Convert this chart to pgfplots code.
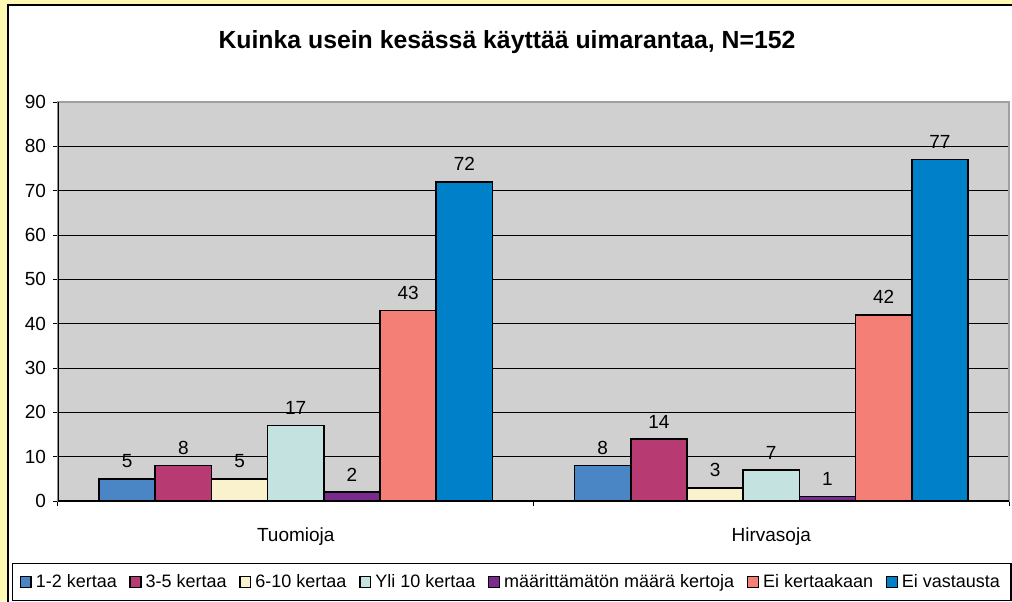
\documentclass[border=0pt]{standalone}
\usepackage{pgfplots}
\pgfplotsset{compat=1.18}
\usepackage{fontspec}
\setmainfont{Liberation Sans}
\definecolor{bgyellow}{HTML}{FFF9B4}
\definecolor{plotgray}{HTML}{D0D0D0}
\definecolor{cA}{HTML}{4A86C6}
\definecolor{cB}{HTML}{B83A73}
\definecolor{cC}{HTML}{FAF2CC}
\definecolor{cD}{HTML}{C3E2E0}
\definecolor{cE}{HTML}{7B2A8D}
\definecolor{cF}{HTML}{F47F77}
\definecolor{cG}{HTML}{0080C8}
\pgfplotsset{
  mybar/.style={fill=#1, draw=black, line width=0.85pt,
    legend image code/.code={\draw[fill=#1,draw=black,line width=0.7pt] (0pt,-2.7pt) rectangle (5.4pt,2.7pt);}},
}
\begin{document}
\begin{tikzpicture}
\useasboundingbox (0pt,0pt) rectangle (506pt,300.5pt);
\clip (0pt,0pt) rectangle (506pt,300.5pt);
\fill[bgyellow] (0pt,0pt) rectangle (506pt,300.5pt);
\fill[white] (4pt,-10pt) rectangle (520pt,298pt);
\draw[line width=1.2pt] (4pt,-10pt) |- (520pt,298pt);
\node[font=\bfseries\fontsize{12.4}{14}\selectfont] at (253.5pt,279.5pt) {Kuinka usein kesässä käyttää uimarantaa, N=152};
\begin{axis}[
  at={(29pt,50pt)}, anchor=south west,
  scale only axis, width=475.5pt, height=199.5pt,
  ybar=0pt, bar width=0.1182,
  ymin=0, ymax=90, ytick={0,10,...,90},
  xmin=-0.5, xmax=1.5,
  xtick={-0.5,0.5,1.5}, xticklabels={},
  extra x ticks={0,1}, extra x tick labels={Tuomioja,Hirvasoja},
  extra x tick style={major tick length=0pt, grid=none},
  xtick pos=bottom, ytick pos=left,
  tick align=outside, major tick length=2.5pt,
  tick style={black, line width=0.5pt},
  ymajorgrids, grid style={black, line width=0.5pt},
  axis background/.style={fill=plotgray},
  axis line style={draw=gray!75, line width=1pt},
  tick label style={font=\fontsize{9.5}{11}\selectfont},
  /pgf/number format/assume math mode=true,
  xticklabel style={yshift=-10pt},
  nodes near coords,
  every node near coord/.append style={font=\fontsize{9.5}{11}\selectfont, inner sep=0pt, yshift=5pt},
  legend columns=-1,
  legend style={at={(axis description cs:-0.0484,-0.1554)}, anchor=north west,
    draw=black, line width=0.6pt, font=\fontsize{9}{10}\selectfont,
    inner xsep=3.5pt, inner ysep=3.2pt,
    /tikz/every even column/.append style={column sep=4.3pt}},
  legend cell align=left,
]
\addplot[mybar=cA] coordinates {(0,5) (1,8)};
\addplot[mybar=cB] coordinates {(0,8) (1,14)};
\addplot[mybar=cC] coordinates {(0,5) (1,3)};
\addplot[mybar=cD] coordinates {(0,17) (1,7)};
\addplot[mybar=cE] coordinates {(0,2) (1,1)};
\addplot[mybar=cF] coordinates {(0,43) (1,42)};
\addplot[mybar=cG] coordinates {(0,72) (1,77)};
\legend{1-2 kertaa,3-5 kertaa,6-10 kertaa,Yli 10 kertaa,määrittämätön määrä kertoja,Ei kertaakaan,Ei vastausta}
\draw[black, line width=0.8pt] (rel axis cs:0,1) -- (rel axis cs:0,0) -- (rel axis cs:1,0);
\end{axis}
\end{tikzpicture}
\end{document}
